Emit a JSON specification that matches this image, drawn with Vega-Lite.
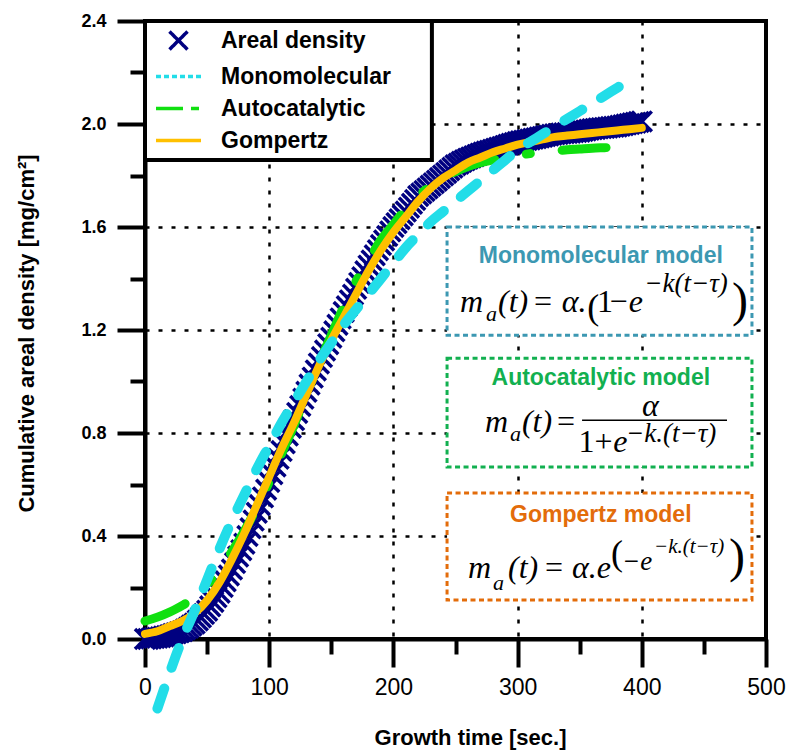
{
  "$schema": "https://vega.github.io/schema/vega-lite/v6.json",
  "width": 621,
  "height": 618,
  "autosize": {"type": "none"},
  "padding": {"left": 145, "top": 21, "right": 30, "bottom": 114},
  "config": {
    "view": {"stroke": "black", "strokeWidth": 4},
    "font": "Liberation Sans",
    "axis": {
      "domainColor": "black", "domainWidth": 4,
      "tickColor": "black", "tickWidth": 4,
      "grid": true, "gridColor": "black", "gridDash": [4, 9], "gridWidth": 2.5,
      "labelColor": "black", "titleColor": "black",
      "labelFont": "Liberation Sans", "titleFont": "Liberation Sans",
      "labelOverlap": false, "labelFlush": false
    }
  },
  "datasets": {
    "pts": [
      {"t":0,"v":0.0,"series":"Areal density"},{"t":2.5,"v":0.0,"series":"Areal density"},{"t":5,"v":0.002,"series":"Areal density"},{"t":7.5,"v":0.004,"series":"Areal density"},{"t":10,"v":0.005,"series":"Areal density"},{"t":12.5,"v":0.007,"series":"Areal density"},{"t":15,"v":0.01,"series":"Areal density"},{"t":17.5,"v":0.012,"series":"Areal density"},
      {"t":20,"v":0.015,"series":"Areal density"},{"t":22.5,"v":0.019,"series":"Areal density"},{"t":25,"v":0.022,"series":"Areal density"},{"t":27.5,"v":0.026,"series":"Areal density"},{"t":30,"v":0.03,"series":"Areal density"},{"t":32.5,"v":0.037,"series":"Areal density"},{"t":35,"v":0.044,"series":"Areal density"},{"t":37.5,"v":0.052,"series":"Areal density"},
      {"t":40,"v":0.06,"series":"Areal density"},{"t":42.5,"v":0.072,"series":"Areal density"},{"t":45,"v":0.084,"series":"Areal density"},{"t":47.5,"v":0.097,"series":"Areal density"},{"t":50,"v":0.11,"series":"Areal density"},{"t":52.5,"v":0.127,"series":"Areal density"},{"t":55,"v":0.144,"series":"Areal density"},{"t":57.5,"v":0.162,"series":"Areal density"},
      {"t":60,"v":0.18,"series":"Areal density"},{"t":62.5,"v":0.202,"series":"Areal density"},{"t":65,"v":0.224,"series":"Areal density"},{"t":67.5,"v":0.247,"series":"Areal density"},{"t":70,"v":0.27,"series":"Areal density"},{"t":72.5,"v":0.295,"series":"Areal density"},{"t":75,"v":0.32,"series":"Areal density"},{"t":77.5,"v":0.345,"series":"Areal density"},
      {"t":80,"v":0.37,"series":"Areal density"},{"t":82.5,"v":0.4,"series":"Areal density"},{"t":85,"v":0.43,"series":"Areal density"},{"t":87.5,"v":0.46,"series":"Areal density"},{"t":90,"v":0.49,"series":"Areal density"},{"t":92.5,"v":0.52,"series":"Areal density"},{"t":95,"v":0.55,"series":"Areal density"},{"t":97.5,"v":0.58,"series":"Areal density"},
      {"t":100,"v":0.61,"series":"Areal density"},{"t":102.5,"v":0.64,"series":"Areal density"},{"t":105,"v":0.67,"series":"Areal density"},{"t":107.5,"v":0.7,"series":"Areal density"},{"t":110,"v":0.73,"series":"Areal density"},{"t":112.5,"v":0.76,"series":"Areal density"},{"t":115,"v":0.79,"series":"Areal density"},{"t":117.5,"v":0.82,"series":"Areal density"},
      {"t":120,"v":0.85,"series":"Areal density"},{"t":122.5,"v":0.878,"series":"Areal density"},{"t":125,"v":0.905,"series":"Areal density"},{"t":127.5,"v":0.933,"series":"Areal density"},{"t":130,"v":0.96,"series":"Areal density"},{"t":132.5,"v":0.988,"series":"Areal density"},{"t":135,"v":1.015,"series":"Areal density"},{"t":137.5,"v":1.043,"series":"Areal density"},
      {"t":140,"v":1.07,"series":"Areal density"},{"t":142.5,"v":1.095,"series":"Areal density"},{"t":145,"v":1.12,"series":"Areal density"},{"t":147.5,"v":1.145,"series":"Areal density"},{"t":150,"v":1.17,"series":"Areal density"},{"t":152.5,"v":1.195,"series":"Areal density"},{"t":155,"v":1.22,"series":"Areal density"},{"t":157.5,"v":1.245,"series":"Areal density"},
      {"t":160,"v":1.27,"series":"Areal density"},{"t":162.5,"v":1.292,"series":"Areal density"},{"t":165,"v":1.315,"series":"Areal density"},{"t":167.5,"v":1.337,"series":"Areal density"},{"t":170,"v":1.36,"series":"Areal density"},{"t":172.5,"v":1.383,"series":"Areal density"},{"t":175,"v":1.405,"series":"Areal density"},{"t":177.5,"v":1.428,"series":"Areal density"},
      {"t":180,"v":1.45,"series":"Areal density"},{"t":182.5,"v":1.47,"series":"Areal density"},{"t":185,"v":1.49,"series":"Areal density"},{"t":187.5,"v":1.51,"series":"Areal density"},{"t":190,"v":1.53,"series":"Areal density"},{"t":192.5,"v":1.548,"series":"Areal density"},{"t":195,"v":1.565,"series":"Areal density"},{"t":197.5,"v":1.583,"series":"Areal density"},
      {"t":200,"v":1.6,"series":"Areal density"},{"t":202.5,"v":1.615,"series":"Areal density"},{"t":205,"v":1.63,"series":"Areal density"},{"t":207.5,"v":1.645,"series":"Areal density"},{"t":210,"v":1.66,"series":"Areal density"},{"t":212.5,"v":1.675,"series":"Areal density"},{"t":215,"v":1.69,"series":"Areal density"},{"t":217.5,"v":1.705,"series":"Areal density"},
      {"t":220,"v":1.72,"series":"Areal density"},{"t":222.5,"v":1.73,"series":"Areal density"},{"t":225,"v":1.74,"series":"Areal density"},{"t":227.5,"v":1.75,"series":"Areal density"},{"t":230,"v":1.76,"series":"Areal density"},{"t":232.5,"v":1.77,"series":"Areal density"},{"t":235,"v":1.78,"series":"Areal density"},{"t":237.5,"v":1.79,"series":"Areal density"},
      {"t":240,"v":1.8,"series":"Areal density"},{"t":242.5,"v":1.81,"series":"Areal density"},{"t":245,"v":1.82,"series":"Areal density"},{"t":247.5,"v":1.83,"series":"Areal density"},{"t":250,"v":1.84,"series":"Areal density"},{"t":252.5,"v":1.846,"series":"Areal density"},{"t":255,"v":1.853,"series":"Areal density"},{"t":257.5,"v":1.859,"series":"Areal density"},
      {"t":260,"v":1.865,"series":"Areal density"},{"t":262.5,"v":1.87,"series":"Areal density"},{"t":265,"v":1.875,"series":"Areal density"},{"t":267.5,"v":1.88,"series":"Areal density"},{"t":270,"v":1.885,"series":"Areal density"},{"t":272.5,"v":1.889,"series":"Areal density"},{"t":275,"v":1.893,"series":"Areal density"},{"t":277.5,"v":1.896,"series":"Areal density"},
      {"t":280,"v":1.9,"series":"Areal density"},{"t":282.5,"v":1.904,"series":"Areal density"},{"t":285,"v":1.908,"series":"Areal density"},{"t":287.5,"v":1.911,"series":"Areal density"},{"t":290,"v":1.915,"series":"Areal density"},{"t":292.5,"v":1.919,"series":"Areal density"},{"t":295,"v":1.923,"series":"Areal density"},{"t":297.5,"v":1.926,"series":"Areal density"},
      {"t":300,"v":1.93,"series":"Areal density"},{"t":302.5,"v":1.933,"series":"Areal density"},{"t":305,"v":1.935,"series":"Areal density"},{"t":307.5,"v":1.938,"series":"Areal density"},{"t":310,"v":1.94,"series":"Areal density"},{"t":312.5,"v":1.943,"series":"Areal density"},{"t":315,"v":1.945,"series":"Areal density"},{"t":317.5,"v":1.948,"series":"Areal density"},
      {"t":320,"v":1.95,"series":"Areal density"},{"t":322.5,"v":1.953,"series":"Areal density"},{"t":325,"v":1.955,"series":"Areal density"},{"t":327.5,"v":1.958,"series":"Areal density"},{"t":330,"v":1.96,"series":"Areal density"},{"t":332.5,"v":1.961,"series":"Areal density"},{"t":335,"v":1.963,"series":"Areal density"},{"t":337.5,"v":1.964,"series":"Areal density"},
      {"t":340,"v":1.965,"series":"Areal density"},{"t":342.5,"v":1.966,"series":"Areal density"},{"t":345,"v":1.968,"series":"Areal density"},{"t":347.5,"v":1.969,"series":"Areal density"},{"t":350,"v":1.97,"series":"Areal density"},{"t":352.5,"v":1.973,"series":"Areal density"},{"t":355,"v":1.975,"series":"Areal density"},{"t":357.5,"v":1.978,"series":"Areal density"},
      {"t":360,"v":1.98,"series":"Areal density"},{"t":362.5,"v":1.981,"series":"Areal density"},{"t":365,"v":1.983,"series":"Areal density"},{"t":367.5,"v":1.984,"series":"Areal density"},{"t":370,"v":1.985,"series":"Areal density"},{"t":372.5,"v":1.986,"series":"Areal density"},{"t":375,"v":1.988,"series":"Areal density"},{"t":377.5,"v":1.989,"series":"Areal density"},
      {"t":380,"v":1.99,"series":"Areal density"},{"t":382.5,"v":1.993,"series":"Areal density"},{"t":385,"v":1.995,"series":"Areal density"},{"t":387.5,"v":1.998,"series":"Areal density"},{"t":390,"v":2.0,"series":"Areal density"},{"t":392.5,"v":2.003,"series":"Areal density"},{"t":395,"v":2.005,"series":"Areal density"},{"t":397.5,"v":2.008,"series":"Areal density"},
      {"t":400,"v":2.01,"series":"Areal density"}
    ],
    "mono": [
      {"t":10,"v":-0.27,"series":"Monomolecular"},{"t":20,"v":-0.13,"series":"Monomolecular"},{"t":30,"v":0.0,"series":"Monomolecular"},{"t":40,"v":0.11,"series":"Monomolecular"},{"t":50,"v":0.23,"series":"Monomolecular"},{"t":60,"v":0.35,"series":"Monomolecular"},{"t":70,"v":0.46,"series":"Monomolecular"},{"t":80,"v":0.56,"series":"Monomolecular"},{"t":90,"v":0.66,"series":"Monomolecular"},{"t":100,"v":0.75,"series":"Monomolecular"},
      {"t":110,"v":0.84,"series":"Monomolecular"},{"t":120,"v":0.92,"series":"Monomolecular"},{"t":130,"v":1.0,"series":"Monomolecular"},{"t":140,"v":1.08,"series":"Monomolecular"},{"t":150,"v":1.15,"series":"Monomolecular"},{"t":160,"v":1.22,"series":"Monomolecular"},{"t":170,"v":1.28,"series":"Monomolecular"},{"t":180,"v":1.34,"series":"Monomolecular"},{"t":190,"v":1.40,"series":"Monomolecular"},{"t":200,"v":1.46,"series":"Monomolecular"},
      {"t":210,"v":1.52,"series":"Monomolecular"},{"t":220,"v":1.57,"series":"Monomolecular"},{"t":230,"v":1.62,"series":"Monomolecular"},{"t":240,"v":1.66,"series":"Monomolecular"},{"t":250,"v":1.70,"series":"Monomolecular"},{"t":260,"v":1.74,"series":"Monomolecular"},{"t":270,"v":1.78,"series":"Monomolecular"},{"t":280,"v":1.82,"series":"Monomolecular"},{"t":290,"v":1.86,"series":"Monomolecular"},{"t":300,"v":1.90,"series":"Monomolecular"},
      {"t":310,"v":1.93,"series":"Monomolecular"},{"t":320,"v":1.96,"series":"Monomolecular"},{"t":330,"v":1.99,"series":"Monomolecular"},{"t":340,"v":2.02,"series":"Monomolecular"},{"t":350,"v":2.05,"series":"Monomolecular"},{"t":360,"v":2.08,"series":"Monomolecular"},{"t":370,"v":2.11,"series":"Monomolecular"},{"t":380,"v":2.14,"series":"Monomolecular"},{"t":390,"v":2.17,"series":"Monomolecular"}
    ],
    "auto": [
      {"t":0,"v":0.07,"series":"Autocatalytic"},{"t":10,"v":0.085,"series":"Autocatalytic"},{"t":20,"v":0.105,"series":"Autocatalytic"},{"t":30,"v":0.13,"series":"Autocatalytic"},{"t":40,"v":0.165,"series":"Autocatalytic"},{"t":50,"v":0.21,"series":"Autocatalytic"},{"t":60,"v":0.27,"series":"Autocatalytic"},{"t":70,"v":0.34,"series":"Autocatalytic"},{"t":80,"v":0.42,"series":"Autocatalytic"},{"t":90,"v":0.51,"series":"Autocatalytic"},
      {"t":100,"v":0.61,"series":"Autocatalytic"},{"t":110,"v":0.72,"series":"Autocatalytic"},{"t":120,"v":0.83,"series":"Autocatalytic"},{"t":130,"v":0.95,"series":"Autocatalytic"},{"t":140,"v":1.07,"series":"Autocatalytic"},{"t":150,"v":1.18,"series":"Autocatalytic"},{"t":160,"v":1.29,"series":"Autocatalytic"},{"t":170,"v":1.39,"series":"Autocatalytic"},{"t":180,"v":1.47,"series":"Autocatalytic"},{"t":190,"v":1.55,"series":"Autocatalytic"},
      {"t":200,"v":1.61,"series":"Autocatalytic"},{"t":210,"v":1.67,"series":"Autocatalytic"},{"t":220,"v":1.72,"series":"Autocatalytic"},{"t":230,"v":1.76,"series":"Autocatalytic"},{"t":240,"v":1.79,"series":"Autocatalytic"},{"t":250,"v":1.815,"series":"Autocatalytic"},{"t":260,"v":1.835,"series":"Autocatalytic"},{"t":270,"v":1.85,"series":"Autocatalytic"},{"t":280,"v":1.86,"series":"Autocatalytic"},{"t":290,"v":1.87,"series":"Autocatalytic"},
      {"t":300,"v":1.878,"series":"Autocatalytic"},{"t":310,"v":1.885,"series":"Autocatalytic"},{"t":320,"v":1.89,"series":"Autocatalytic"},{"t":330,"v":1.895,"series":"Autocatalytic"},{"t":340,"v":1.90,"series":"Autocatalytic"},{"t":350,"v":1.903,"series":"Autocatalytic"},{"t":360,"v":1.906,"series":"Autocatalytic"},{"t":370,"v":1.908,"series":"Autocatalytic"},{"t":380,"v":1.91,"series":"Autocatalytic"},{"t":390,"v":1.912,"series":"Autocatalytic"}
    ],
    "gomp": [
      {"t":0,"v":0.02,"series":"Gompertz"},{"t":10,"v":0.03,"series":"Gompertz"},{"t":20,"v":0.05,"series":"Gompertz"},{"t":30,"v":0.07,"series":"Gompertz"},{"t":40,"v":0.10,"series":"Gompertz"},{"t":50,"v":0.15,"series":"Gompertz"},{"t":60,"v":0.22,"series":"Gompertz"},{"t":70,"v":0.31,"series":"Gompertz"},{"t":80,"v":0.41,"series":"Gompertz"},{"t":90,"v":0.52,"series":"Gompertz"},
      {"t":100,"v":0.63,"series":"Gompertz"},{"t":110,"v":0.74,"series":"Gompertz"},{"t":120,"v":0.84,"series":"Gompertz"},{"t":130,"v":0.95,"series":"Gompertz"},{"t":140,"v":1.06,"series":"Gompertz"},{"t":150,"v":1.16,"series":"Gompertz"},{"t":160,"v":1.25,"series":"Gompertz"},{"t":170,"v":1.34,"series":"Gompertz"},{"t":180,"v":1.43,"series":"Gompertz"},{"t":190,"v":1.51,"series":"Gompertz"},
      {"t":200,"v":1.58,"series":"Gompertz"},{"t":210,"v":1.64,"series":"Gompertz"},{"t":220,"v":1.70,"series":"Gompertz"},{"t":230,"v":1.75,"series":"Gompertz"},{"t":240,"v":1.79,"series":"Gompertz"},{"t":250,"v":1.82,"series":"Gompertz"},{"t":260,"v":1.85,"series":"Gompertz"},{"t":270,"v":1.87,"series":"Gompertz"},{"t":280,"v":1.89,"series":"Gompertz"},{"t":290,"v":1.905,"series":"Gompertz"},
      {"t":300,"v":1.92,"series":"Gompertz"},{"t":310,"v":1.93,"series":"Gompertz"},{"t":320,"v":1.94,"series":"Gompertz"},{"t":330,"v":1.95,"series":"Gompertz"},{"t":340,"v":1.955,"series":"Gompertz"},{"t":350,"v":1.96,"series":"Gompertz"},{"t":360,"v":1.965,"series":"Gompertz"},{"t":370,"v":1.97,"series":"Gompertz"},{"t":380,"v":1.975,"series":"Gompertz"},{"t":390,"v":1.98,"series":"Gompertz"},
      {"t":400,"v":1.985,"series":"Gompertz"}
    ],
    "legendframe": [
      {"x1":0,"x2":231,"y1":2.4,"y2":1.86}
    ],
    "boxes": [
      {"box":"Monomolecular model","x1":243.2,"x2":488.7,"y1":1.60,"y2":1.18,"tx":367,"ty":1.46},
      {"box":"Autocatalytic model","x1":243.2,"x2":488.7,"y1":1.09,"y2":0.668,"tx":367,"ty":0.988},
      {"box":"Gompertz model","x1":243.2,"x2":488.7,"y1":0.567,"y2":0.151,"tx":367,"ty":0.454}
    ],
    "fi": [
      {"t":253.6,"v":1.27,"s":"m"},{"t":284.2,"v":1.27,"s":"(t)"},{"t":335.5,"v":1.27,"s":"α."},{"t":389.5,"v":1.27,"s":"e"},
      {"t":273.7,"v":0.804,"s":"m"},{"t":303.5,"v":0.804,"s":"(t)"},{"t":400.2,"v":0.866,"s":"α"},{"t":377.0,"v":0.726,"s":"e"},
      {"t":260.1,"v":0.237,"s":"m"},{"t":292.3,"v":0.237,"s":"(t)"},{"t":343.8,"v":0.237,"s":"α.e"}
    ],
    "fu": [
      {"t":313.2,"v":1.27,"s":"="},{"t":364.0,"v":1.27,"s":"1"},{"t":374.0,"v":1.27,"s":"−"},
      {"t":331.7,"v":0.804,"s":"="},{"t":349.0,"v":0.726,"s":"1"},{"t":362.0,"v":0.726,"s":"+"},
      {"t":322.1,"v":0.237,"s":"="}
    ],
    "fs": [
      {"t":274.5,"v":1.235,"s":"a"},{"t":293.9,"v":0.769,"s":"a"},{"t":280.2,"v":0.19,"s":"a"}
    ],
    "fp": [
      {"t":402,"v":1.348,"s":"−k(t−τ)"},{"t":387.3,"v":0.765,"s":"−k.(t−τ)"},{"t":384.1,"v":0.268,"s":"−e"}
    ],
    "fpp": [
      {"t":409.8,"v":0.334,"s":"−k.(t−τ)"}
    ],
    "parS": [
      {"t":356.0,"v":1.243,"s":"("},{"t":375.2,"v":0.287,"s":"("}
    ],
    "parB": [
      {"t":472.6,"v":1.254,"s":")"},{"t":470.2,"v":0.26,"s":")"}
    ],
    "frac": [
      {"t":351.9,"t2":468.6,"v":0.85}
    ]
  },
  "layer": [
    {
      "data": {"name": "legendframe"},
      "mark": {"type": "rect", "fill": "white", "stroke": "black", "strokeWidth": 4},
      "encoding": {
        "x": {"field": "x1", "type": "quantitative"},
        "x2": {"field": "x2"},
        "y": {"field": "y1", "type": "quantitative"},
        "y2": {"field": "y2"}
      }
    },
    {
      "data": {"name": "pts"},
      "mark": {"type": "point", "filled": false, "size": 400, "strokeWidth": 3.5, "opacity": 1},
      "encoding": {
        "x": {
          "field": "t", "type": "quantitative",
          "scale": {"domain": [0, 500], "nice": false, "zero": false},
          "axis": {
            "values": [0, 50, 100, 150, 200, 250, 300, 350, 400, 450, 500],
            "labelExpr": "datum.value % 100 === 0 ? datum.label : ''",
            "tickSize": {"condition": {"test": "datum.value % 100 !== 0", "value": 15}, "value": 28},
            "gridOpacity": {"condition": {"test": "datum.value % 100 !== 0 || datum.value === 0 || datum.value === 500", "value": 0}, "value": 1},
            "labelFontSize": 23, "labelPadding": 9,
            "title": "Growth time [sec.]", "titleFontSize": 22, "titleFontWeight": "bold",
            "titlePadding": 28, "titleX": 325
          }
        },
        "y": {
          "field": "v", "type": "quantitative",
          "scale": {"domain": [0, 2.4], "nice": false, "zero": false},
          "axis": {
            "values": [0, 0.2, 0.4, 0.6, 0.8, 1.0, 1.2, 1.4, 1.6, 1.8, 2.0, 2.2, 2.4],
            "labelExpr": "round(datum.value*10) % 4 === 0 ? format(datum.value, '.1f') : ''",
            "tickSize": {"condition": {"test": "round(datum.value*10) % 4 !== 0", "value": 15}, "value": 28},
            "gridOpacity": {"condition": {"test": "round(datum.value*10) % 4 !== 0 || datum.value < 0.1 || datum.value > 2.3", "value": 0}, "value": 1},
            "labelFontSize": 18, "labelFontWeight": "bold", "labelPadding": 11,
            "title": "Cumulative areal density [mg/cm²]", "titleFontSize": 22, "titleFontWeight": "bold",
            "titleX": -107, "titleY": 312, "titleAngle": -90, "titleBaseline": "bottom", "titleAlign": "center"
          }
        },
        "color": {
          "field": "series", "type": "nominal",
          "scale": {"domain": ["Areal density", "Monomolecular", "Autocatalytic", "Gompertz"], "range": ["#000080", "#22DDE8", "#10E010", "#FFC000"]},
          "legend": {
            "orient": "none", "legendX": 0, "legendY": 0, "title": null,
            "padding": 8,
            "symbolSize": 324, "symbolOffset": 14, "labelOffset": 31, "rowPadding": 8,
            "labelFontSize": 23, "labelFontWeight": "bold", "labelColor": "black", "labelFont": "Liberation Sans",
            "labelLimit": 400, "symbolStrokeWidth": 3.5
          }
        },
        "shape": {
          "field": "series", "type": "nominal",
          "scale": {"domain": ["Areal density", "Monomolecular", "Autocatalytic", "Gompertz"], "range": ["M-1,-1L1,1M1,-1L-1,1", "M-2.5,0L2.5,0", "M-2.5,0L2.5,0", "M-2.5,0L2.5,0"]}
        },
        "strokeDash": {
          "field": "series", "type": "nominal",
          "scale": {"domain": ["Areal density", "Monomolecular", "Autocatalytic", "Gompertz"], "range": [[1, 0], [5, 3], [27, 8, 8, 8], [1, 0]]}
        }
      }
    },
    {
      "data": {"name": "auto"},
      "mark": {"type": "line", "strokeWidth": 9, "strokeDash": [44, 32, 4, 32], "strokeCap": "round", "interpolate": "monotone"},
      "encoding": {
        "x": {"field": "t", "type": "quantitative"},
        "y": {"field": "v", "type": "quantitative"},
        "color": {"field": "series", "type": "nominal", "legend": null}
      }
    },
    {
      "data": {"name": "gomp"},
      "mark": {"type": "line", "strokeWidth": 8, "strokeCap": "round", "interpolate": "monotone"},
      "encoding": {
        "x": {"field": "t", "type": "quantitative"},
        "y": {"field": "v", "type": "quantitative"},
        "color": {"field": "series", "type": "nominal", "legend": null}
      }
    },
    {
      "data": {"name": "mono"},
      "mark": {"type": "line", "strokeWidth": 10, "strokeDash": [21, 22], "strokeCap": "round", "interpolate": "monotone"},
      "encoding": {
        "x": {"field": "t", "type": "quantitative"},
        "y": {"field": "v", "type": "quantitative"},
        "color": {"field": "series", "type": "nominal", "legend": null}
      }
    },
    {
      "data": {"name": "boxes"},
      "mark": {"type": "rect", "fill": "white", "strokeWidth": 3, "strokeDash": [5, 3.5]},
      "encoding": {
        "x": {"field": "x1", "type": "quantitative"},
        "x2": {"field": "x2"},
        "y": {"field": "y1", "type": "quantitative"},
        "y2": {"field": "y2"},
        "stroke": {"field": "box", "type": "nominal", "legend": null,
          "scale": {"domain": ["Monomolecular model", "Autocatalytic model", "Gompertz model"], "range": ["#3C98B2", "#12B050", "#E36C0A"]}}
      }
    },
    {
      "data": {"name": "boxes"},
      "mark": {"type": "text", "font": "Liberation Sans", "fontSize": 23, "fontWeight": "bold", "align": "center", "baseline": "alphabetic"},
      "encoding": {
        "x": {"field": "tx", "type": "quantitative"},
        "y": {"field": "ty", "type": "quantitative"},
        "text": {"field": "box"},
        "fill": {"field": "box", "type": "nominal", "legend": null,
          "scale": {"domain": ["Monomolecular model", "Autocatalytic model", "Gompertz model"], "range": ["#3C98B2", "#12B050", "#E36C0A"]}}
      }
    },
    {
      "data": {"name": "fi"},
      "mark": {"type": "text", "font": "Liberation Serif", "fontStyle": "italic", "fontSize": 32, "align": "left", "baseline": "alphabetic", "color": "black"},
      "encoding": {"x": {"field": "t", "type": "quantitative"}, "y": {"field": "v", "type": "quantitative"}, "text": {"field": "s"}}
    },
    {
      "data": {"name": "fu"},
      "mark": {"type": "text", "font": "Liberation Serif", "fontSize": 32, "align": "left", "baseline": "alphabetic", "color": "black"},
      "encoding": {"x": {"field": "t", "type": "quantitative"}, "y": {"field": "v", "type": "quantitative"}, "text": {"field": "s"}}
    },
    {
      "data": {"name": "fs"},
      "mark": {"type": "text", "font": "Liberation Serif", "fontStyle": "italic", "fontSize": 22, "align": "left", "baseline": "alphabetic", "color": "black"},
      "encoding": {"x": {"field": "t", "type": "quantitative"}, "y": {"field": "v", "type": "quantitative"}, "text": {"field": "s"}}
    },
    {
      "data": {"name": "fp"},
      "mark": {"type": "text", "font": "Liberation Serif", "fontStyle": "italic", "fontSize": 27, "align": "left", "baseline": "alphabetic", "color": "black"},
      "encoding": {"x": {"field": "t", "type": "quantitative"}, "y": {"field": "v", "type": "quantitative"}, "text": {"field": "s"}}
    },
    {
      "data": {"name": "fpp"},
      "mark": {"type": "text", "font": "Liberation Serif", "fontStyle": "italic", "fontSize": 21, "align": "left", "baseline": "alphabetic", "color": "black"},
      "encoding": {"x": {"field": "t", "type": "quantitative"}, "y": {"field": "v", "type": "quantitative"}, "text": {"field": "s"}}
    },
    {
      "data": {"name": "parS"},
      "mark": {"type": "text", "font": "Liberation Serif", "fontSize": 36, "align": "left", "baseline": "alphabetic", "color": "black"},
      "encoding": {"x": {"field": "t", "type": "quantitative"}, "y": {"field": "v", "type": "quantitative"}, "text": {"field": "s"}}
    },
    {
      "data": {"name": "parB"},
      "mark": {"type": "text", "font": "Liberation Serif", "fontSize": 48, "align": "left", "baseline": "alphabetic", "color": "black"},
      "encoding": {"x": {"field": "t", "type": "quantitative"}, "y": {"field": "v", "type": "quantitative"}, "text": {"field": "s"}}
    },
    {
      "data": {"name": "frac"},
      "mark": {"type": "rule", "strokeWidth": 1.5, "color": "black"},
      "encoding": {"x": {"field": "t", "type": "quantitative"}, "x2": {"field": "t2"}, "y": {"field": "v", "type": "quantitative"}}
    }
  ]
}
